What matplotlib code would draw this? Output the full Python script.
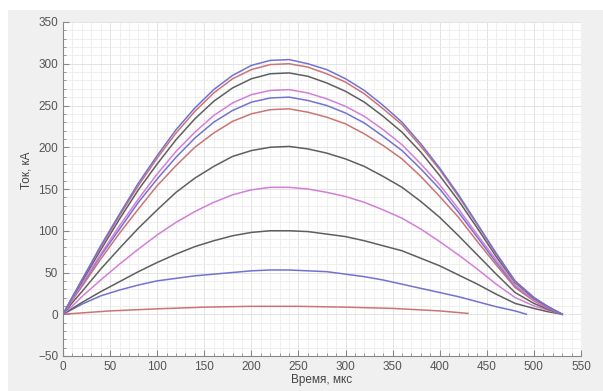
import numpy as np
import matplotlib
matplotlib.use('Agg')
import matplotlib.pyplot as plt
from matplotlib.patches import Rectangle
from matplotlib.ticker import MultipleLocator

plt.rcParams['font.family'] = ['Liberation Sans', 'DejaVu Sans']

# time axis (мкс) shared by the large pulses
t_main = [0, 10, 20, 40, 60, 80, 100, 120, 140, 160, 180, 200, 220, 240, 260,
          280, 300, 320, 340, 360, 380, 400, 420, 440, 460, 480, 500, 515, 530]

i_305 = [0, 21, 41, 82, 120, 157, 190, 221, 247, 269, 286, 298, 304, 305, 300,
         293, 282, 268, 250, 230, 204, 175, 143, 108, 73, 40, 20, 9, 0]
i_300 = [0, 20, 41, 80, 118, 154, 187, 217, 243, 265, 282, 293, 299, 300, 296,
         288, 278, 264, 246, 227, 201, 173, 141, 107, 72, 39, 20, 9, 0]
i_289 = [0, 20, 39, 77, 114, 149, 180, 209, 234, 255, 271, 282, 288, 289, 285,
         277, 267, 254, 237, 218, 194, 166, 136, 103, 69, 38, 19, 9, 0]
i_269 = [0, 18, 36, 72, 106, 138, 168, 195, 218, 238, 253, 263, 268, 269, 265,
         258, 249, 237, 221, 203, 180, 155, 126, 95, 65, 35, 17, 8, 0]
i_260 = [0, 18, 35, 70, 102, 134, 162, 188, 211, 230, 244, 254, 259, 260, 256,
         250, 241, 229, 213, 196, 174, 150, 122, 92, 62, 34, 17, 8, 0]
i_246 = [0, 17, 33, 66, 97, 126, 154, 178, 200, 217, 231, 240, 245, 246, 242,
         236, 228, 216, 202, 186, 165, 141, 116, 87, 59, 32, 16, 7, 0]
i_201 = [0, 14, 27, 54, 79, 103, 125, 146, 163, 177, 189, 196, 200, 201, 198,
         193, 186, 177, 165, 152, 135, 116, 94, 71, 48, 26, 13, 6, 0]
i_152 = [0, 10, 21, 41, 60, 78, 95, 110, 123, 134, 143, 149, 152, 152, 150,
         146, 141, 134, 125, 115, 102, 87, 71, 54, 36, 20, 10, 5, 0]
i_100 = [0, 7, 14, 27, 39, 51, 62, 72, 81, 88, 94, 98, 100, 100, 99,
         96, 93, 88, 82, 76, 67, 58, 47, 36, 24, 13, 7, 3, 0]

t_53 = [0, 10, 20, 40, 60, 80, 100, 120, 140, 160, 180, 200, 220, 240, 260,
        280, 300, 320, 340, 360, 380, 400, 420, 440, 460, 480, 492]
i_53 = [0, 6, 12, 22, 29, 35, 40, 43, 46, 48, 50, 52, 53, 53, 52,
        51, 48, 45, 41, 36, 31, 26, 21, 15, 9, 4, 0]

t_10 = [0, 50, 100, 150, 200, 250, 300, 350, 400, 430]
i_10 = [0, 4, 6.5, 8.5, 9.5, 9.5, 8.5, 7, 4, 1]

blue = '#7272d2'
red = '#cc7474'
gray = '#5f5f5f'
pink = '#d47ed8'

series = [
    (t_10, i_10, red),
    (t_53, i_53, blue),
    (t_main, i_100, gray),
    (t_main, i_152, pink),
    (t_main, i_201, gray),
    (t_main, i_246, red),
    (t_main, i_260, blue),
    (t_main, i_269, pink),
    (t_main, i_289, gray),
    (t_main, i_300, red),
    (t_main, i_305, blue),
]

fig = plt.figure(figsize=(6.03, 3.91), dpi=100, facecolor='white')
fig.patches.append(Rectangle((8 / 603, 0), 1, 1 - 10 / 391, transform=fig.transFigure,
                             facecolor='#f0f0f0', edgecolor='none', zorder=-10))
ax = fig.add_axes([63 / 603, 1 - 356 / 391, 518 / 603, 334 / 391])
ax.set_facecolor('white')

for t, i, c in series:
    ax.plot(t, i, color=c, lw=1.1, solid_joinstyle='round')

ax.set_xlim(0, 550)
ax.set_ylim(-50, 350)
ax.xaxis.set_major_locator(MultipleLocator(50))
ax.yaxis.set_major_locator(MultipleLocator(50))
ax.xaxis.set_minor_locator(MultipleLocator(10))
ax.yaxis.set_minor_locator(MultipleLocator(10))
ax.grid(which='minor', color='#ededed', lw=0.6)
ax.grid(which='major', color='#e3e3e3', lw=0.7)
ax.set_axisbelow(True)

for s in ['top', 'right']:
    ax.spines[s].set_visible(False)
for s in ['left', 'bottom']:
    ax.spines[s].set_color('#888888')
    ax.spines[s].set_linewidth(0.8)
ax.tick_params(which='both', direction='in', color='#888888', labelcolor='#555555',
               labelsize=8.5)
ax.tick_params(which='major', length=4)
ax.tick_params(which='minor', length=2)

ax.set_xlabel('Время, мкс', fontsize=8.5, color='#444444', labelpad=1)
ax.set_ylabel('Ток, кА', fontsize=8.5, color='#444444')
ax.yaxis.set_label_coords(-0.058, 0.555)

fig.savefig('out.png', dpi=100, facecolor=fig.get_facecolor())
